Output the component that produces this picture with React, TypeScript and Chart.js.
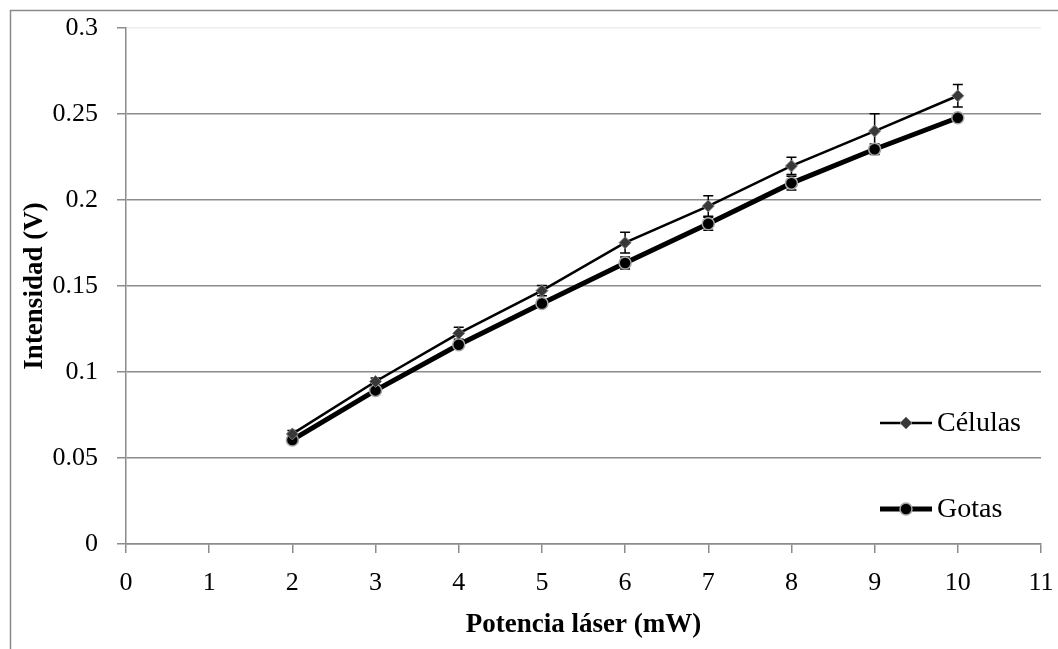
import React, { useEffect, useRef } from "react";
import { Chart, registerables } from "chart.js";

Chart.register(...registerables);

// ---- Data ----
const potencia = [2, 3, 4, 5, 6, 7, 8, 9, 10];
const celulas = [0.064, 0.0945, 0.1225, 0.1473, 0.1752, 0.1965, 0.2198, 0.2401, 0.2606];
const celulasErr = [0.002, 0.002, 0.0035, 0.003, 0.006, 0.006, 0.005, 0.01, 0.0065];
const gotas = [0.0605, 0.0893, 0.1158, 0.1398, 0.1634, 0.1862, 0.2098, 0.2295, 0.2478];
const gotasErr = [0.001, 0.0015, 0.002, 0.002, 0.0035, 0.0038, 0.004, 0.003, 0.002];
const seriesNames = ["Células", "Gotas"];
const xTitle = "Potencia láser (mW)";
const yTitle = "Intensidad (V)";

const FONT = "'Liberation Serif', 'Times New Roman', serif";
const GRID = "#8c8c8c";

const errorBarPlugin = {
  id: "errorBars",
  beforeDatasetsDraw(chart: any) {
    const { ctx, scales } = chart;
    const x = scales.x;
    const y = scales.y;
    chart.data.datasets.forEach((ds: any) => {
      const errs = ds.errors;
      if (!errs) return;
      ctx.save();
      ctx.strokeStyle = "#000";
      ctx.lineWidth = 1.5;
      ds.data.forEach((pt: any, j: number) => {
        const px = x.getPixelForValue(pt.x);
        const top = y.getPixelForValue(pt.y + errs[j]);
        const bot = y.getPixelForValue(pt.y - errs[j]);
        ctx.beginPath();
        ctx.moveTo(px, top);
        ctx.lineTo(px, bot);
        ctx.moveTo(px - 5, top);
        ctx.lineTo(px + 5, top);
        ctx.moveTo(px - 5, bot);
        ctx.lineTo(px + 5, bot);
        ctx.stroke();
      });
      ctx.restore();
    });
  },
};

function drawMarker(ctx: CanvasRenderingContext2D, ds: any, cx: number, cy: number) {
  const r = ds.pointRadius;
  ctx.save();
  ctx.fillStyle = ds.pointBackgroundColor;
  ctx.strokeStyle = ds.pointBorderColor;
  ctx.lineWidth = ds.pointBorderWidth;
  ctx.beginPath();
  if (ds.pointStyle === "rectRot") {
    ctx.moveTo(cx, cy - r);
    ctx.lineTo(cx + r, cy);
    ctx.lineTo(cx, cy + r);
    ctx.lineTo(cx - r, cy);
    ctx.closePath();
  } else {
    ctx.arc(cx, cy, r, 0, Math.PI * 2);
  }
  ctx.fill();
  ctx.stroke();
  ctx.restore();
}

const legendAndFramePlugin = {
  id: "legendFrame",
  afterDraw(chart: any) {
    const { ctx, chartArea, width, height } = chart;
    // frame
    ctx.save();
    ctx.strokeStyle = "#8a8a8a";
    ctx.lineWidth = 1.5;
    ctx.beginPath();
    ctx.moveTo(10.5, height);
    ctx.lineTo(10.5, 10.5);
    ctx.lineTo(width, 10.5);
    ctx.stroke();
    ctx.restore();
    // legend
    const rowsY = [chartArea.top + 395, chartArea.top + 481];
    const x0 = chartArea.right - 161;
    const x1 = chartArea.right - 109;
    chart.data.datasets.forEach((ds: any, i: number) => {
      const yy = rowsY[i];
      ctx.save();
      ctx.strokeStyle = ds.borderColor;
      ctx.lineWidth = ds.borderWidth;
      ctx.beginPath();
      ctx.moveTo(x0, yy);
      ctx.lineTo(x1, yy);
      ctx.stroke();
      drawMarker(ctx, ds, (x0 + x1) / 2, yy);
      ctx.fillStyle = "#000";
      ctx.font = `28px ${FONT}`;
      ctx.textBaseline = "middle";
      ctx.textAlign = "left";
      ctx.fillText(ds.label, x1 + 5, yy + 1);
      ctx.restore();
    });
  },
};

export default function App() {
  const ref = useRef<HTMLCanvasElement | null>(null);
  useEffect(() => {
    if (!ref.current) return;
    const chart = new Chart(ref.current, {
      type: "line",
      data: {
        datasets: [
          {
            label: seriesNames[0],
            data: potencia.map((p, i) => ({ x: p, y: celulas[i] })),
            errors: celulasErr,
            borderColor: "#000",
            borderWidth: 2.5,
            pointStyle: "rectRot",
            pointRadius: 6,
            pointBackgroundColor: "#383838",
            pointBorderColor: "#808080",
            pointBorderWidth: 1,
            tension: 0,
          } as any,
          {
            label: seriesNames[1],
            data: potencia.map((p, i) => ({ x: p, y: gotas[i] })),
            errors: gotasErr,
            borderColor: "#000",
            borderWidth: 5,
            pointStyle: "circle",
            pointRadius: 6,
            pointBackgroundColor: "#000",
            pointBorderColor: "#a6a6a6",
            pointBorderWidth: 1.5,
            tension: 0,
          } as any,
        ],
      },
      options: {
        animation: false,
        responsive: false,
        layout: { padding: { top: 28, right: 17, left: 0, bottom: 0 } },
        plugins: { legend: { display: false }, tooltip: { enabled: false } },
        scales: {
          x: {
            type: "linear",
            min: 0,
            max: 11,
            afterFit: (s: any) => {
              s.height = 105;
              s.paddingLeft = 0;
              s.paddingRight = 0;
            },
            ticks: {
              stepSize: 1,
              color: "#000",
              padding: 15,
              maxRotation: 0,
              font: { family: FONT, size: 26 },
            },
            grid: {
              drawOnChartArea: false,
              drawTicks: true,
              tickLength: 9,
              color: GRID,
              lineWidth: 1.5,
            },
            border: { display: true, color: GRID, width: 1.5 },
            title: {
              display: true,
              text: xTitle,
              color: "#000",
              font: { family: FONT, size: 27, weight: "bold" },
              padding: { top: 0, bottom: 8 },
            },
          },
          y: {
            type: "linear",
            min: 0,
            max: 0.3,
            afterFit: (s: any) => {
              s.width = 126;
              s.paddingTop = 0;
              s.paddingBottom = 0;
            },
            ticks: {
              stepSize: 0.05,
              color: "#000",
              padding: 19,
              font: { family: FONT, size: 26 },
              callback: (v: any) => String(parseFloat(Number(v).toFixed(2))),
            },
            grid: {
              drawOnChartArea: true,
              drawTicks: true,
              tickLength: 9,
              color: (c: any) => (c.tick && Math.abs(c.tick.value - 0.3) < 1e-9 ? "#eeeeee" : GRID),
              tickColor: GRID,
              lineWidth: 1.5,
            },
            border: { display: true, color: GRID, width: 1.5 },
            title: {
              display: true,
              text: yTitle,
              color: "#000",
              font: { family: FONT, size: 27, weight: "bold" },
              padding: { top: 19, bottom: 0 },
            },
          },
        },
      } as any,
      plugins: [errorBarPlugin, legendAndFramePlugin],
    });
    return () => chart.destroy();
  }, []);
  return (
    <div style={{ position: "absolute", left: 0, top: 0, width: 1058, height: 649, background: "#fff" }}>
      <canvas ref={ref} width={1058} height={649} style={{ display: "block" }} />
    </div>
  );
}
